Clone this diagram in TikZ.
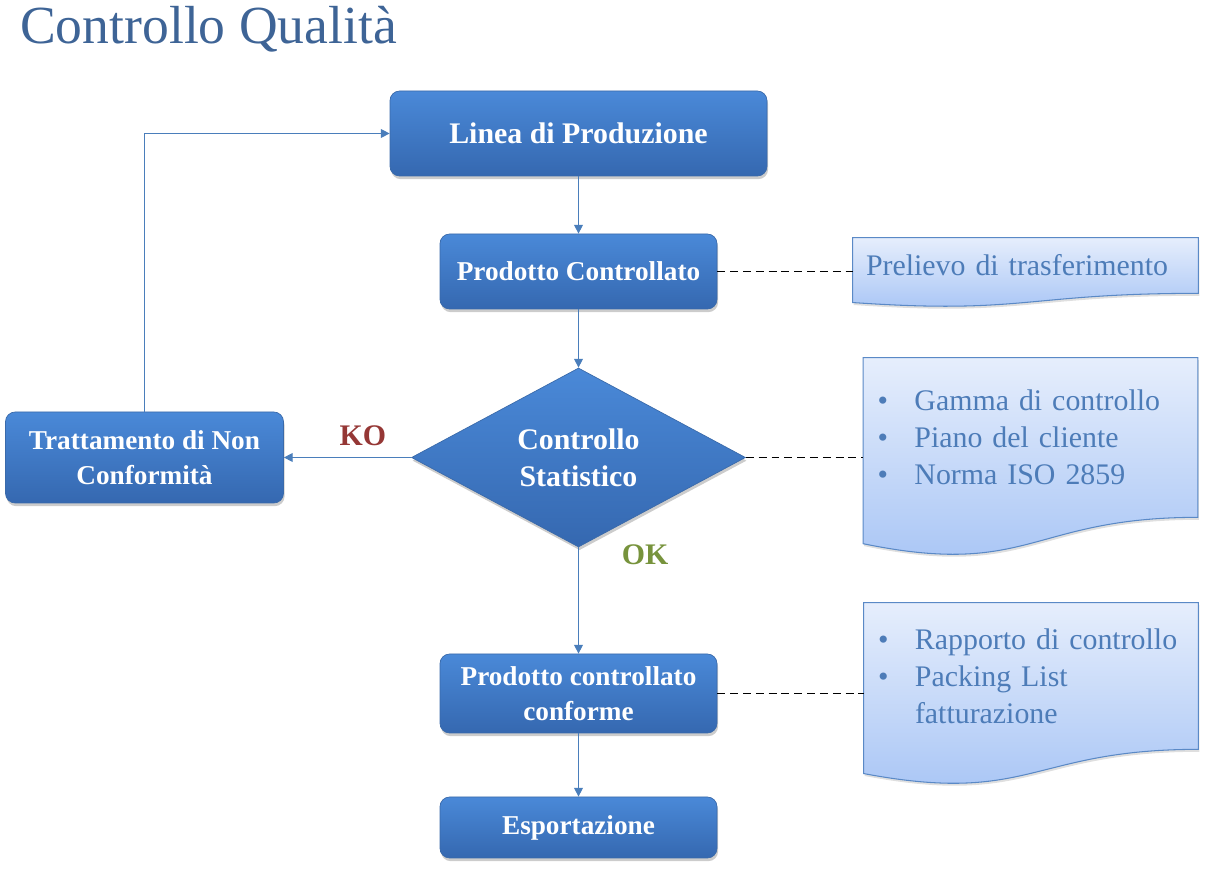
\documentclass[tikz,border=0pt]{standalone}
\usepackage{fontspec}
\setmainfont{Liberation Serif}
\usetikzlibrary{shapes.geometric,arrows.meta,positioning,calc,shadows,backgrounds}
\definecolor{titleblue}{HTML}{3E6496}
\definecolor{boxtop}{HTML}{4A89D8}
\definecolor{boxbottom}{HTML}{3568B0}
\definecolor{boxline}{HTML}{3A6AAA}
\definecolor{linkblue}{HTML}{4A7EBB}
\definecolor{papertop}{HTML}{E6EEFC}
\definecolor{paperbottom}{HTML}{A5C3F5}
\definecolor{paperline}{HTML}{5A89C6}
\definecolor{papertext}{HTML}{4D7CB8}
\definecolor{kored}{HTML}{953735}
\definecolor{okgreen}{HTML}{77933C}
\tikzset
{
    process/.style={rectangle, rounded corners=5.5pt, top color=boxtop, bottom color=boxbottom, draw=boxline, text=white, align=center, minimum width=5.54cm, font=\fontsize{15.5}{20}\selectfont\bfseries, drop shadow={shadow xshift=0.6pt, shadow yshift=-1.8pt, opacity=0.4}},
    decision/.style={diamond, aspect=1.87, inner sep=0pt, top color=boxtop, bottom color=boxbottom, draw=boxline, text=white, align=center, minimum width=6.68cm, minimum height=3.58cm, font=\fontsize{17}{21}\selectfont\bfseries, drop shadow={shadow xshift=0.6pt, shadow yshift=-1.8pt, opacity=0.4}},
    document/.style={rectangle, inner xsep=0pt, text=papertext, align=left, font=\fontsize{17}{21}\selectfont},
    paper/.style={top color=papertop, bottom color=paperbottom, draw=paperline, line width=0.6pt, drop shadow={shadow xshift=0.6pt, shadow yshift=-1.4pt, opacity=0.25}},
    arrow/.style={draw=linkblue, line width=0.6pt, -{Triangle[length=5pt,width=5pt]}},
    link/.style={dashed, line width=1.1pt, dash pattern=on 4.5pt off 2.8pt},
    answer/.style={font=\fontsize{17}{20}\selectfont\bfseries}
}
% wavy paper drawn under a document node
\newcommand{\docshape}[1]{%
  \path[paper] (#1.north west) -- (#1.north east) -- (#1.south east)
    .. controls (#1.south) and ($(#1.north)!1.381!(#1.south)$)
    .. ($(#1.north west)!1.165!(#1.south west)$) -- cycle;}
\newcommand{\bitem}{\makebox[0.74cm][l]{\textbullet}}

\begin{document}
\begin{tikzpicture}
	\useasboundingbox (0,0) rectangle (24.12,-17.42);
	\node (title) [anchor=base west, text=titleblue, font=\fontsize{30.5}{36}\selectfont] at (0.28,-0.88) {Controllo Qualità};

	\node (lin) [process, minimum width=7.54cm, minimum height=1.70cm, font=\fontsize{17}{20}\selectfont\bfseries] at (11.57,-2.67) {Linea di Produzione};
	\node (pc) [process, below of=lin, yshift=-1.76cm, minimum height=1.50cm] {Prodotto Controllato};
	\node (cs) [decision, below of=pc, yshift=-2.72cm] {Controllo\\Statistico};
	\node (pcc) [process, below of=cs, yshift=-3.72cm, minimum height=1.58cm] {Prodotto controllato\\conforme};
	\node (esp) [process, below of=pcc, yshift=-1.68cm, minimum height=1.22cm] {Esportazione};
	\node (tnc) [process, left of=cs, xshift=-7.68cm, minimum width=5.56cm, minimum height=1.82cm] {Trattamento di Non\\Conformità};

	\node (doc1) [document, right of=pc, xshift=7.94cm, yshift=0.12cm, minimum width=6.90cm, minimum height=1.10cm, text width=6.38cm] {Prelievo di trasferimento};
	\node (doc2) [document, right of=cs, xshift=8.04cm, yshift=0.40cm, minimum width=6.68cm, minimum height=3.18cm, text width=6.12cm] {\bitem Gamma di controllo\\\bitem Piano del cliente\\\bitem Norma ISO 2859};
	\node (doc3) [document, right of=pcc, xshift=8.05cm, yshift=0.35cm, minimum width=6.68cm, minimum height=2.92cm, text width=6.12cm] {\bitem Rapporto di controllo\\\bitem Packing List\\\hspace*{0.74cm}fatturazione};

	\begin{scope}[on background layer]
		\docshape{doc1}
		\docshape{doc2}
		\docshape{doc3}
	\end{scope}

	\draw [arrow] (lin) -- (pc);
	\draw [arrow] (pc) -- (cs);
	\draw [arrow] (cs) -- node[answer, text=okgreen, right, pos=0.07, xshift=0.74cm] {OK} (pcc);
	\draw [arrow] (pcc) -- (esp);
	\draw [arrow] (cs) -- node[answer, text=kored, above, pos=0.38, yshift=3pt] {KO} (tnc);
	\draw [arrow] (tnc.north) |- (lin.west);

	\draw [link] (pc.east) -- (pc.east -| doc1.west);
	\draw [link] (cs.east) -- (cs.east -| doc2.west);
	\draw [link] (pcc.east) -- (pcc.east -| doc3.west);
\end{tikzpicture}
\end{document}
